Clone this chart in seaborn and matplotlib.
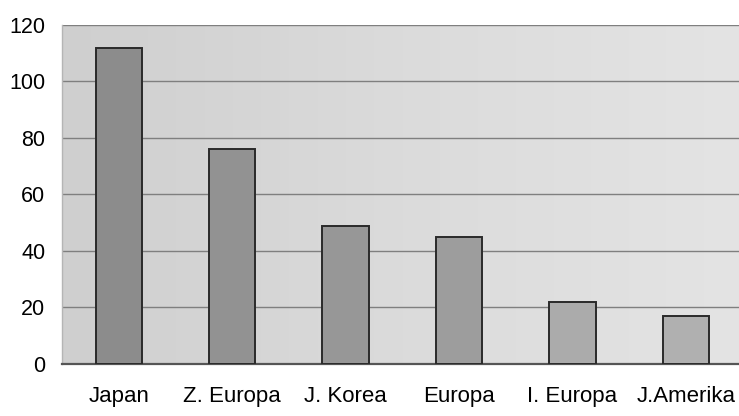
import matplotlib
matplotlib.use("Agg")
import matplotlib.pyplot as plt
import seaborn as sns
import numpy as np
import pandas as pd
from matplotlib.colors import LinearSegmentedColormap

regions = ["Japan", "Z. Europa", "J. Korea", "Europa", "I. Europa", "J.Amerika"]
values = [112, 76, 49, 45, 22, 17]
bar_colors = ["#8c8c8c", "#929292", "#979797", "#9d9d9d", "#ababab", "#b0b0b0"]

df = pd.DataFrame({"region": regions, "value": values})

sns.set_style("white")
plt.rcParams["font.family"] = ["Liberation Sans", "DejaVu Sans"]

fig = plt.figure(figsize=(7.39, 4.16), dpi=100)
ax = fig.add_axes([0.084, 0.125, 0.921, 0.815])

# scanned grey background, darker on the left
bg = LinearSegmentedColormap.from_list("bg", ["#cfcfcf", "#dbdbdb", "#e4e4e4"])
grad = np.linspace(0, 1, 256).reshape(1, -1)
ax.imshow(grad, extent=[0, 1, 0, 1], transform=ax.transAxes, aspect="auto",
          cmap=bg, zorder=0)

sns.barplot(data=df, x="region", y="value", hue="region", palette=bar_colors,
            width=0.41, edgecolor="#2a2a2a", linewidth=1.4, legend=False,
            saturation=1, ax=ax, zorder=3)

ax.set_xlim(-0.5, 5.5)
ax.set_ylim(0, 120)
ax.set_yticks(range(0, 121, 20))
ax.yaxis.grid(True, color="#7f7f7f", linewidth=1.0)
ax.set_axisbelow(True)
for line in ax.get_ygridlines():
    line.set_zorder(1)

ax.set_xlabel("")
ax.set_ylabel("")
ax.tick_params(axis="x", length=0, pad=16, labelsize=16, labelcolor="black")
ax.tick_params(axis="y", length=0, pad=12, labelsize=15.5, labelcolor="black")

for side in ["top", "right"]:
    ax.spines[side].set_visible(False)
ax.spines["bottom"].set_color("#555555")
ax.spines["bottom"].set_linewidth(1.6)
ax.spines["left"].set_color("#b5b5b5")
ax.spines["left"].set_linewidth(1.0)

fig.savefig("out.png", dpi=100)
